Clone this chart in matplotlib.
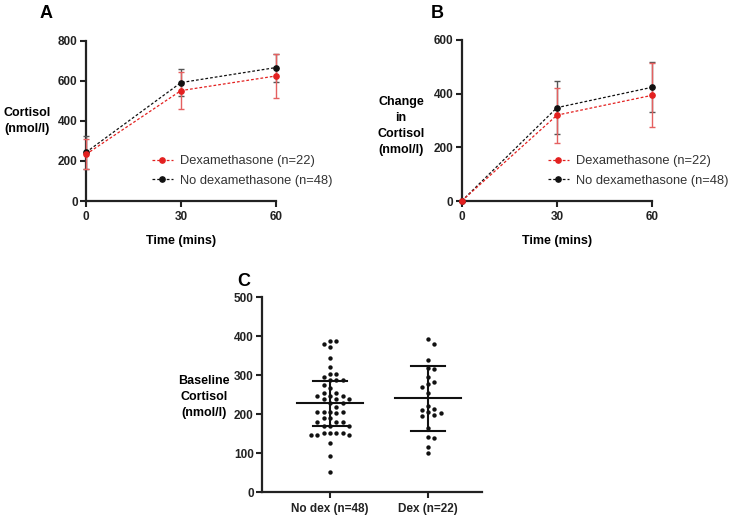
import numpy as np
import matplotlib.pyplot as plt
from matplotlib.lines import Line2D

plt.rcParams['font.family'] = ['Liberation Sans', 'DejaVu Sans']

# panel A / B data
time = [0, 30, 60]
dex_cort = [233, 551, 624]
dex_cort_sd = [75, 94, 108]
nodex_cort = [243, 591, 666]
nodex_cort_sd = [83, 66, 70]

dex_change = [0, 320, 394]
dex_change_sd = [0, 102, 120]
nodex_change = [0, 348, 424]
nodex_change_sd = [0, 98, 94]

# panel C, baseline cortisol per patient
nodex_base = [389, 389, 380, 372, 344, 322, 303, 303, 295, 288, 288, 288,
              274, 267, 254, 254, 247, 247, 247, 239, 239, 239, 230, 230,
              220, 207, 207, 207, 207, 203, 191, 191, 181, 181, 181, 170,
              170, 170, 153, 153, 153, 153, 147, 147, 147, 126, 94, 51]
dex_base = [393, 380, 339, 316, 318, 296, 282, 271, 278, 254, 221, 213,
            211, 203, 205, 196, 198, 166, 138, 141, 117, 102]
groups = ['No dex (n=48)', 'Dex (n=22)']
# centre line and bar ends as drawn in the figure
group_mid = [228, 241]
group_spread = [57, 83]

RED = '#e3201f'
RED_ERR = '#e56060'
BLK = '#111111'
ERR_BLK = '#555555'


def style_axis(ax):
    for s in ['top', 'right']:
        ax.spines[s].set_visible(False)
    for s in ['left', 'bottom']:
        ax.spines[s].set_linewidth(1.6)
        ax.spines[s].set_color('#222222')
    ax.tick_params(direction='out', length=4, width=1.5, colors='#222222', pad=2)
    ax.tick_params(axis='x', pad=3.5)
    for lab in ax.get_xticklabels() + ax.get_yticklabels():
        lab.set_fontsize(8.5)
        lab.set_fontweight('bold')


def time_panel(ax, dex, dex_sd, nodex, nodex_sd, ymax):
    # black series first so red sits on top
    for vals, sd, col, ecol in [(nodex, nodex_sd, BLK, ERR_BLK), (dex, dex_sd, RED, RED_ERR)]:
        eb = ax.errorbar(time, vals, yerr=sd, fmt='none', ecolor=ecol, elinewidth=1.0,
                         capsize=2.5, capthick=1.0, zorder=3)
        for art in eb.get_children():
            art.set_clip_on(False)
        ax.plot(time, vals, color=col, lw=0.9, ls=(0, (2.2, 1.6)), marker='o', ms=3.8,
                clip_on=False, zorder=4)
    ax.set_xlim(0, 60)
    ax.set_ylim(0, ymax)
    ax.set_xticks(time)
    ax.set_yticks(np.arange(0, ymax + 1, 200))
    style_axis(ax)
    ax.set_xlabel('Time (mins)', fontsize=9, fontweight='bold', labelpad=8)


def swarm(values, center, xpx, ypx, step=6.3, mind=5.6):
    placed = []
    xs = np.zeros(len(values))
    for i in np.argsort(values)[::-1]:
        y = values[i] * ypx
        k = 0
        done = False
        while not done:
            offs = [0.0] if k == 0 else [k * step, -k * step]
            for off in offs:
                if all((off - px) ** 2 + (y - py) ** 2 >= mind ** 2 for px, py in placed):
                    placed.append((off, y))
                    xs[i] = off
                    done = True
                    break
            k += 1
    return center + xs / xpx


fig = plt.figure(figsize=(7.3, 5.16), dpi=100)
W, H = 730.0, 516.0

# ---- A
axA = fig.add_axes([86 / W, 1 - 201 / H, 190 / W, 160.3 / H])
time_panel(axA, dex_cort, dex_cort_sd, nodex_cort, nodex_cort_sd, 800)

# ---- B
axB = fig.add_axes([461.7 / W, 1 - 201 / H, 190.6 / W, 161 / H])
time_panel(axB, dex_change, dex_change_sd, nodex_change, nodex_change_sd, 600)

handles = [Line2D([], [], color=RED, lw=0.9, ls=(0, (2.2, 1.6)), marker='o', ms=3.8),
           Line2D([], [], color=BLK, lw=0.9, ls=(0, (2.2, 1.6)), marker='o', ms=3.8)]
labels = ['Dexamethasone (n=22)', 'No dexamethasone (n=48)']
for ax, lx in [(axA, 152), (axB, 548)]:
    ax.legend(handles, labels, loc='center left', bbox_to_anchor=(lx / W, 1 - 171 / H),
              bbox_transform=fig.transFigure, frameon=False, borderpad=0, borderaxespad=0,
              handlelength=1.6, handletextpad=0.6, labelspacing=0.55,
              prop={'size': 9.3}, labelcolor='#333333')

# ---- C
axC = fig.add_axes([262 / W, 1 - 492.3 / H, 220 / W, 195 / H])
xpx = 98.0
ypx = 195 / 500.0
for gi, vals in enumerate([nodex_base, dex_base]):
    vals = np.array(vals, dtype=float)
    xs = swarm(vals, gi, xpx, ypx)
    axC.scatter(xs, vals, s=10, color=BLK, zorder=3, linewidths=0)
    m = group_mid[gi]
    sd = group_spread[gi]
    axC.plot([gi - 0.34, gi + 0.34], [m, m], color=BLK, lw=1.5, zorder=4)
    axC.plot([gi, gi], [m - sd, m + sd], color=BLK, lw=1.5, zorder=4)
    for yy in [m - sd, m + sd]:
        axC.plot([gi - 0.17, gi + 0.17], [yy, yy], color=BLK, lw=1.5, zorder=4)
axC.set_xlim(-0.694, 1.55)
axC.set_ylim(0, 500)
axC.set_xticks([0, 1])
axC.set_xticklabels(groups)
axC.set_yticks(np.arange(0, 501, 100))
style_axis(axC)

# y labels, written horizontally like the original
fig.text(27 / W, 1 - 121 / H, 'Cortisol\n(nmol/l)', ha='center', va='center',
         fontsize=9, fontweight='bold', linespacing=1.45)
fig.text(401 / W, 1 - 126 / H, 'Change\nin\nCortisol\n(nmol/l)', ha='center', va='center',
         fontsize=9, fontweight='bold', linespacing=1.45)
fig.text(204 / W, 1 - 397 / H, 'Baseline\nCortisol\n(nmol/l)', ha='center', va='center',
         fontsize=9, fontweight='bold', linespacing=1.4)

# panel letters
fig.text(40 / W, 1 - 18 / H, 'A', fontsize=13, fontweight='bold', va='baseline')
fig.text(431 / W, 1 - 18 / H, 'B', fontsize=13, fontweight='bold', va='baseline')
fig.text(237 / W, 1 - 286 / H, 'C', fontsize=13, fontweight='bold', va='baseline')

fig.savefig('out.png', dpi=100)
